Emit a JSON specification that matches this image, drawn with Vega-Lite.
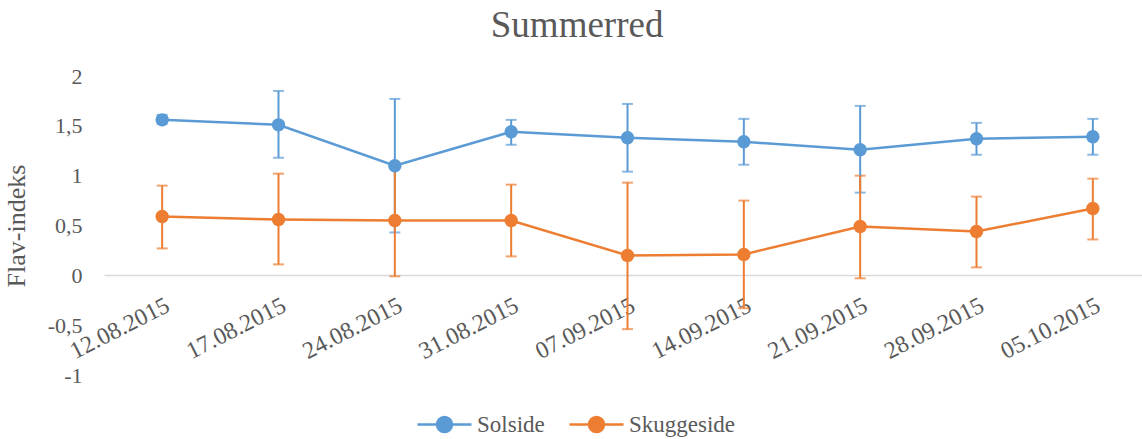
{
  "$schema": "https://vega.github.io/schema/vega-lite/v6.json",
  "autosize": "none",
  "width": 1047,
  "height": 299,
  "padding": {"left": 104, "top": 76, "right": -9, "bottom": 64},
  "background": "white",
  "config": {
    "locale": {"number": {"decimal": ",", "thousands": " ", "grouping": [3], "currency": ["", ""], "minus": "-"}},
    "font": "Liberation Serif",
    "view": {"stroke": null},
    "axis": {"labelFont": "Liberation Serif", "titleFont": "Liberation Serif", "labelColor": "#595959", "titleColor": "#595959", "labelFontSize": 22, "titleFontSize": 26, "titleFontWeight": "normal", "grid": false, "ticks": false}
  },
  "title": {"text": "Summerred", "font": "Liberation Serif", "fontSize": 37, "fontWeight": "normal", "color": "#595959", "frame": "bounds", "anchor": "middle", "offset": 20},
  "data": {"values": [
    {"date": "12.08.2015", "series": "Solside", "value": 1.56, "lo": 1.52, "hi": 1.61},
    {"date": "17.08.2015", "series": "Solside", "value": 1.51, "lo": 1.18, "hi": 1.85},
    {"date": "24.08.2015", "series": "Solside", "value": 1.10, "lo": 0.43, "hi": 1.77},
    {"date": "31.08.2015", "series": "Solside", "value": 1.44, "lo": 1.31, "hi": 1.56},
    {"date": "07.09.2015", "series": "Solside", "value": 1.38, "lo": 1.04, "hi": 1.72},
    {"date": "14.09.2015", "series": "Solside", "value": 1.34, "lo": 1.11, "hi": 1.57},
    {"date": "21.09.2015", "series": "Solside", "value": 1.26, "lo": 0.83, "hi": 1.70},
    {"date": "28.09.2015", "series": "Solside", "value": 1.37, "lo": 1.21, "hi": 1.53},
    {"date": "05.10.2015", "series": "Solside", "value": 1.39, "lo": 1.21, "hi": 1.57},
    {"date": "12.08.2015", "series": "Skuggeside", "value": 0.59, "lo": 0.27, "hi": 0.90},
    {"date": "17.08.2015", "series": "Skuggeside", "value": 0.56, "lo": 0.11, "hi": 1.02},
    {"date": "24.08.2015", "series": "Skuggeside", "value": 0.55, "lo": -0.01, "hi": 1.10},
    {"date": "31.08.2015", "series": "Skuggeside", "value": 0.55, "lo": 0.19, "hi": 0.91},
    {"date": "07.09.2015", "series": "Skuggeside", "value": 0.20, "lo": -0.54, "hi": 0.93},
    {"date": "14.09.2015", "series": "Skuggeside", "value": 0.21, "lo": -0.33, "hi": 0.75},
    {"date": "21.09.2015", "series": "Skuggeside", "value": 0.49, "lo": -0.03, "hi": 1.00},
    {"date": "28.09.2015", "series": "Skuggeside", "value": 0.44, "lo": 0.08, "hi": 0.79},
    {"date": "05.10.2015", "series": "Skuggeside", "value": 0.67, "lo": 0.36, "hi": 0.97}
  ]},
  "encoding": {
    "x": {"field": "date", "type": "nominal", "sort": null, "scale": {"type": "point", "padding": 0.5},
      "axis": {"title": null, "labelAngle": -27, "offset": -100, "domainColor": "#d9d9d9", "domainWidth": 1.5, "labelPadding": 18, "labelDx": -6, "labelFontSize": 24}},
    "color": {"field": "series", "type": "nominal", "sort": ["Solside", "Skuggeside"],
      "scale": {"domain": ["Solside", "Skuggeside"], "range": ["#5B9BD5", "#ED7D31"]},
      "legend": {"orient": "none", "legendX": 329, "legendY": 337, "direction": "horizontal", "title": null,
        "labelFont": "Liberation Serif", "labelFontSize": 23, "labelColor": "#595959",
        "symbolType": "M-3.6,0H3.6M1,0A1,1 0 1,1 -1,0A1,1 0 1,1 1,0Z", "symbolSize": 225, "symbolStrokeWidth": 2.5,
        "labelOffset": 21, "columnPadding": 19,
        "encode": {"symbols": {"update": {"stroke": {"scale": "color", "field": "value"}, "fill": {"scale": "color", "field": "value"}, "strokeWidth": {"value": 2.5}, "opacity": {"value": 1}}}}}}
  },
  "layer": [
    {
      "mark": {"type": "errorbar", "rule": {"strokeWidth": 2}, "ticks": {"size": 11, "thickness": 2}},
      "encoding": {
        "y": {"field": "lo", "type": "quantitative", "title": "Flav-indeks", "scale": {"domain": [-1, 2]},
          "axis": {"values": [-1, -0.5, 0, 0.5, 1, 1.5, 2], "format": ".1~f", "domain": false, "labelPadding": 22, "titlePadding": 18}},
        "y2": {"field": "hi"}
      }
    },
    {
      "mark": {"type": "line", "strokeWidth": 2.5},
      "encoding": {
        "y": {"field": "value", "type": "quantitative", "title": "Flav-indeks", "scale": {"domain": [-1, 2]},
          "axis": {"values": [-1, -0.5, 0, 0.5, 1, 1.5, 2], "format": ".1~f", "domain": false, "labelPadding": 22, "titlePadding": 18}}
      }
    },
    {
      "mark": {"type": "point", "filled": true, "size": 180, "opacity": 1},
      "encoding": {
        "y": {"field": "value", "type": "quantitative", "title": "Flav-indeks", "scale": {"domain": [-1, 2]},
          "axis": {"values": [-1, -0.5, 0, 0.5, 1, 1.5, 2], "format": ".1~f", "domain": false, "labelPadding": 22, "titlePadding": 18}}
      }
    }
  ]
}
